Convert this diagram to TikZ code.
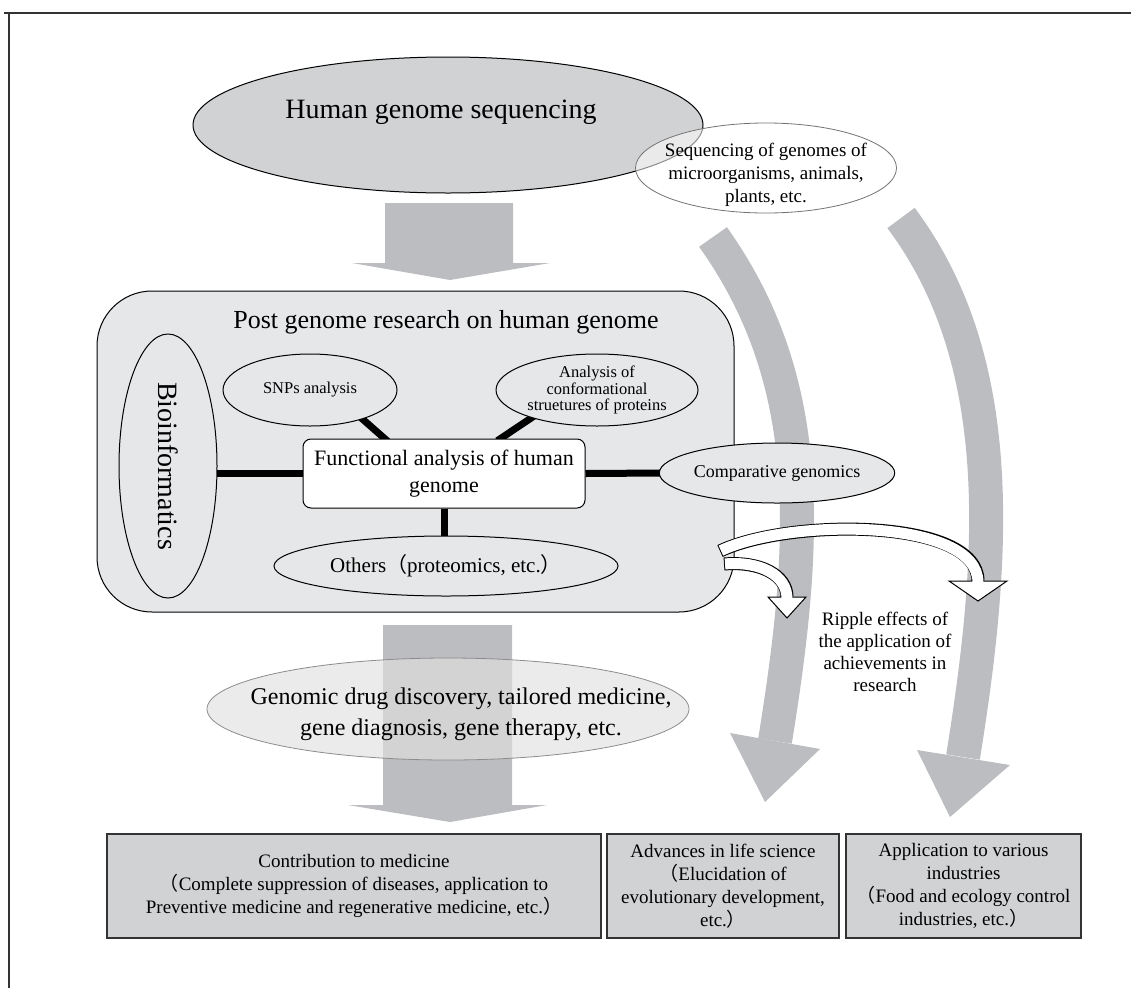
\documentclass[tikz,border=0pt]{standalone}
\usepackage{fontspec}
\setmainfont{Liberation Serif}
\newfontfamily\cjkfont{Noto Sans CJK JP}
\newcommand\fwlp{{\cjkfont （}}
\newcommand\fwrp{{\cjkfont ）}}
\usetikzlibrary{shapes.geometric,calc}
\definecolor{arrowgray}{HTML}{BCBDC0}
\definecolor{biggray}{HTML}{D1D2D4}
\definecolor{boxbg}{HTML}{E6E7E8}
\definecolor{bottomgray}{HTML}{D1D2D4}
\definecolor{gengray}{HTML}{E0E0E0}
\definecolor{framecol}{HTML}{333333}
\pgfdeclarelayer{back}
\pgfdeclarelayer{links}
\pgfsetlayers{back,links,main}
\tikzset{
  inel/.style={ellipse, draw=black, line width=1pt, fill=boxbg, inner sep=0pt, align=center},
  thickconn/.style={line width=7pt, black},
  gband/.style={draw=arrowgray, line width=34pt},
  bbox/.style={rectangle, draw=black!80, line width=1.3pt, fill=bottomgray, inner sep=0pt, align=center, font=\fontsize{19}{23}\selectfont},
  wband/.style={draw=black, line width=13pt},
  winner/.style={draw=white, line width=11pt},
  whead/.style={fill=white, draw=black, line width=1pt, line join=miter},
}
\begin{document}
\begin{tikzpicture}[x=1pt,y=-1pt]
\useasboundingbox (0,0) rectangle (1131,988);

\begin{pgfonlayer}{back}
  % frame
  \coordinate (fr0) at (4,13);
  \coordinate (fr1) at (1131,13);
  \coordinate (fr2) at (9,13);
  \coordinate (fr3) at (9,988);
  \draw[framecol, line width=1.4pt] (fr0) -- (fr1);
  \draw[framecol, line width=1.4pt] (fr2) -- (fr3);

  % top ellipse
  \node[ellipse, draw=black, line width=1pt, fill=biggray, minimum width=510pt, minimum height=136pt, inner sep=0pt] (hgs) at (448,125) {};
  \node[font=\fontsize{28}{28}\selectfont] (hgsT) at (441,112) {Human genome sequencing};

  % sequencing of other genomes
  \node[ellipse, draw=black!55, line width=0.8pt, fill=white, fill opacity=0.55, minimum width=261pt, minimum height=90pt, inner sep=0pt] (seq) at (766,168) {};
  \node[align=center, font=\fontsize{19}{23}\selectfont] (seqT) at (766,175) {Sequencing of genomes of\\microorganisms, animals,\\plants, etc.};

  % down arrow 1
  \fill[arrowgray] (385,203) -- (513,203) -- (513,263) -- (550,263) -- (450,280) -- (352,263) -- (385,263) -- cycle;

  % gray curved arrows
  \coordinate (gl0) at (713,237);
  \coordinate (gl1) at (775,741);
  \draw[gband] (gl0) .. controls (817,383) and (807,543) .. (gl1);
  \fill[arrowgray] (730,733) -- (820,749) -- (765,802) -- cycle;
  \coordinate (gr0) at (901,218);
  \coordinate (gr1) at (963,757);
  \draw[gband] (gr0) .. controls (1009,362) and (995,559) .. (gr1);
  \fill[arrowgray] (917,750) -- (1010,765) -- (950,817) -- cycle;

  % inner box
  \node[draw=black, line width=1pt, fill=boxbg, rounded corners=55pt, minimum width=637pt, minimum height=321pt, inner sep=0pt] (pg) at (415.5,451.5) {};
  \node[font=\fontsize{26}{26}\selectfont] (pgT) at (446,322) {Post genome research on human genome};
\end{pgfonlayer}

% nodes inside the box
\node[inel, rotate=-90, minimum width=264pt, minimum height=98pt, font=\fontsize{28}{28}\selectfont] (bio) at (168,466) {Bioinformatics};
\node[draw=black, line width=1pt, fill=white, rounded corners=8pt, minimum width=282pt, minimum height=69pt, inner sep=0pt, align=center, font=\fontsize{22}{27}\selectfont] (fun) at (444,473.5) {Functional analysis of human\\genome};
\node[inel, minimum width=174pt, minimum height=72pt, font=\fontsize{16.5}{17}\selectfont] (snp) at (310,390) {SNPs analysis};
\node[inel, minimum width=202pt, minimum height=72pt, font=\fontsize{16.5}{16.5}\selectfont] (ana) at (597,390) {Analysis of\\conformational\\struetures of proteins};
\node[inel, minimum width=204pt, minimum height=60pt, font=\fontsize{18}{18}\selectfont] (cmp) at (777,473) {Comparative genomics};
\node[inel, minimum width=344pt, minimum height=60pt, font=\fontsize{21}{21}\selectfont] (oth) at (446,566) {Others\fwlp proteomics, etc.\fwrp};

\begin{pgfonlayer}{links}
  \draw[thickconn] ($(bio.north |- fun.west)+(-6,0)$) -- (fun.west);
  \draw[thickconn] (fun.east) -- ($(cmp.west)+(6,0)$);
  \draw[thickconn] (fun.south) -- ($(fun.south |- oth.north)+(0,5)$);
  \draw[thickconn, shorten <=-5pt, shorten >=-4pt] (snp.-29) -- ($(fun.north west)!0.29!(fun.north east)$);
  \draw[thickconn, shorten <=-5pt, shorten >=-4pt] (ana.203) -- ($(fun.north west)!0.70!(fun.north east)$);
\end{pgfonlayer}

% white ripple arrows
\coordinate (wr0) at (720,551);
\coordinate (wr1) at (978,581);
\draw[wband] (wr0) .. controls (790,518) and (978,518) .. (wr1);
\filldraw[whead] (949,581) -- (1007,581) -- (978,601) -- cycle;
\draw[winner, shorten <=1pt, shorten >=-1.5pt] (wr0) .. controls (790,518) and (978,518) .. (wr1);

\coordinate (wl0) at (724,564);
\coordinate (wl1) at (787,597);
\draw[wband] (wl0) .. controls (760,561) and (787,575) .. (wl1);
\filldraw[whead] (768,597) -- (806,597) -- (787,618) -- cycle;
\draw[winner, shorten <=1pt, shorten >=-1.5pt] (wl0) .. controls (760,561) and (787,575) .. (wl1);

\node[align=center, font=\fontsize{19}{22}\selectfont] (rip) at (885,652) {Ripple effects of\\the application of\\achievements in\\research};

% down arrow 2 and genomic ellipse
\fill[arrowgray] (383,625) -- (512,625) -- (512,805) -- (547,805) -- (450,822) -- (348,805) -- (383,805) -- cycle;
\node[ellipse, draw=black!45, line width=0.8pt, fill=gengray, fill opacity=0.65, minimum width=482pt, minimum height=102pt, inner sep=0pt] (gen) at (448,709) {};
\node[align=center, font=\fontsize{24}{31}\selectfont] (genT) at (461,714) {Genomic drug discovery, tailored medicine,\\gene diagnosis, gene therapy, etc.};

% bottom boxes
\node[bbox, minimum width=494pt, minimum height=104pt] (b1) at (354,886) {Contribution to medicine\\\fwlp Complete suppression of diseases, application to\\Preventive medicine and regenerative medicine, etc.\fwrp};
\node[bbox, minimum width=232pt, minimum height=104pt] (b2) at (723,886) {Advances in life science\\\fwlp Elucidation of\\evolutionary development,\\etc.\fwrp};
\node[bbox, minimum width=235pt, minimum height=104pt] (b3) at (963.5,886) {Application to various\\industries\\\fwlp Food and ecology control\\industries, etc.\fwrp};
\end{tikzpicture}
\end{document}
